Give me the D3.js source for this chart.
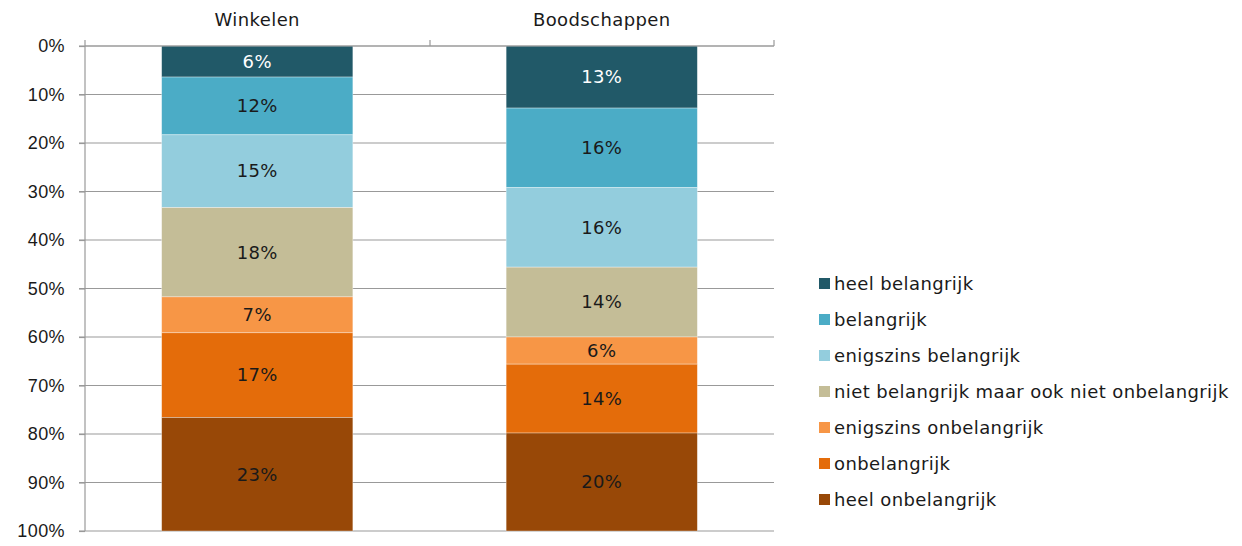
<!DOCTYPE html>
<meta charset="utf-8">
<style>
body { margin: 0; background: #fff; }
svg { display: block; font-family: "DejaVu Sans", Verdana, sans-serif; }
.grid line { stroke: #999; stroke-width: 1.2px; }
.axis path, .axis line { stroke: #999; stroke-width: 1.2px; }
.axis text { font-size: 18px; letter-spacing: 0.4px; fill: #1a1a1a; }
.val { font-size: 18px; letter-spacing: 0.4px; text-anchor: middle; }
.legend text { font-size: 18px; letter-spacing: 0.4px; fill: #1a1a1a; }
</style>
<svg width="1242" height="546"></svg>
<script src="https://d3js.org/d3.v7.min.js"></script>
<script>

// data, bars are stacked top to bottom in this order
var categories = ["Winkelen", "Boodschappen"];
var series = ["heel belangrijk", "belangrijk", "enigszins belangrijk",
  "niet belangrijk maar ook niet onbelangrijk", "enigszins onbelangrijk",
  "onbelangrijk", "heel onbelangrijk"];
var winkelen = [6.4, 11.9, 15.0, 18.4, 7.4, 17.45, 23.4];
var boodschappen = [12.8, 16.4, 16.4, 14.4, 5.6, 14.2, 20.2];
var colors = ["#215968", "#4bacc6", "#93cddd", "#c4bd97", "#f79646", "#e46c0a", "#984807"];
var yTicks = [0, 10, 20, 30, 40, 50, 60, 70, 80, 90, 100];

var svg = d3.select("svg");

var rows = categories.map(function(c, i) {
  var vals = i === 0 ? winkelen : boodschappen;
  var r = { cat: c };
  series.forEach(function(s, j) { r[s] = vals[j]; });
  return r;
});

var stack = d3.stack().keys(series).offset(d3.stackOffsetExpand);
var layers = stack(rows);

var x = d3.scaleBand().domain(categories).range([85, 774])
    .paddingInner(0.445).paddingOuter(0.2225);
var y = d3.scaleLinear().domain([0, 100]).range([46, 531]);
var color = d3.scaleOrdinal().domain(series).range(colors);

// gridlines
svg.append("g").attr("class", "grid")
  .selectAll("line").data(yTicks).enter().append("line")
    .attr("x1", 79).attr("x2", 774)
    .attr("y1", function(d) { return y(d); })
    .attr("y2", function(d) { return y(d); });

// bars
var layer = svg.append("g").selectAll("g").data(layers).enter().append("g")
    .attr("fill", function(d) { return color(d.key); });

layer.selectAll("rect").data(function(d) { return d; }).enter().append("rect")
    .attr("x", function(d) { return x(d.data.cat); })
    .attr("width", x.bandwidth())
    .attr("y", function(d) { return y(d[0] * 100); })
    .attr("height", function(d) { return y(d[1] * 100) - y(d[0] * 100); })
    .attr("stroke", "rgba(255,255,255,0.45)")
    .attr("stroke-width", 0.75);

layer.selectAll("text").data(function(d) {
    return d.map(function(p) { p.key = d.key; return p; });
  }).enter().append("text")
    .attr("class", "val")
    .attr("x", function(d) { return x(d.data.cat) + x.bandwidth() / 2; })
    .attr("y", function(d) { return y((d[0] + d[1]) * 50); })
    .attr("dy", "0.35em")
    .attr("fill", function(d) { return d.key === series[0] ? "#fff" : "#1a1a1a"; })
    .text(function(d) { return Math.round(d.data[d.key]) + "%"; });

// y axis
var yAxis = svg.append("g").attr("class", "axis")
    .attr("transform", "translate(85,0)")
    .call(d3.axisLeft(y).tickValues(yTicks).tickSize(6).tickPadding(14)
      .tickFormat(function(d) { return d + "%"; }));
yAxis.select(".domain").attr("d", "M0,40V531");

// category axis on top
var xAxis = svg.append("g").attr("class", "axis")
    .attr("transform", "translate(0,46)");
xAxis.append("path").attr("d", "M85,0H774");
xAxis.selectAll("line.tk").data([430, 774]).enter().append("line")
    .attr("x1", function(d) { return d; }).attr("x2", function(d) { return d; })
    .attr("y1", 0).attr("y2", -6);
xAxis.selectAll("text").data(categories).enter().append("text")
    .attr("x", function(d) { return x(d) + x.bandwidth() / 2; })
    .attr("y", -26)
    .attr("dy", "0.35em")
    .attr("text-anchor", "middle")
    .text(function(d) { return d; });

// legend
var legend = svg.append("g").attr("class", "legend")
  .selectAll("g").data(series).enter().append("g")
    .attr("transform", function(d, i) { return "translate(819," + (283.5 + i * 36) + ")"; });
legend.append("rect").attr("x", 0).attr("y", -5.5).attr("width", 11).attr("height", 11)
    .attr("fill", function(d) { return color(d); });
legend.append("text").attr("x", 15).attr("dy", "0.35em").text(function(d) { return d; });

</script>
